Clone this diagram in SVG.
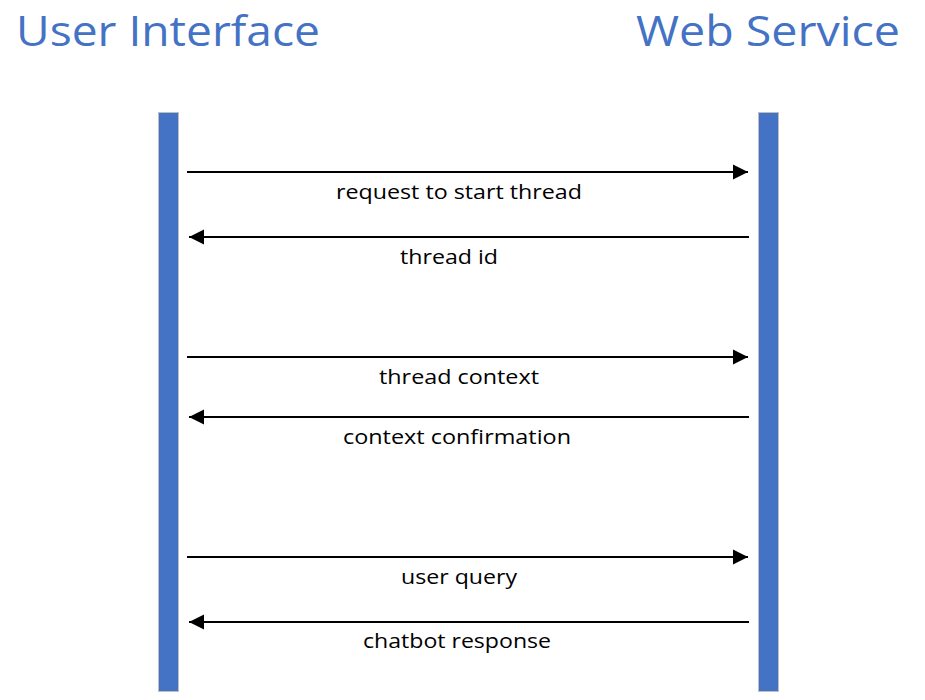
<svg xmlns="http://www.w3.org/2000/svg" width="925" height="700" viewBox="0 0 925 700">
<style>
.title{font-family:"Open Sans","Liberation Sans",sans-serif;font-size:42px;fill:#4472C4}
.lbl{font-family:"Open Sans","Liberation Sans",sans-serif;font-size:20px;fill:#000;text-anchor:middle}
.bar{fill:#4472C4;stroke:#BFBFBF;stroke-width:1}
.msg{stroke:#000;stroke-width:2;fill:none}
</style>
<defs>
<marker id="ah" markerWidth="16" markerHeight="16" refX="15" refY="8" orient="auto" markerUnits="userSpaceOnUse">
<path d="M0,0.5 L15,8 L0,15.5 Z" fill="#000"/>
</marker>
</defs>
<rect width="925" height="700" fill="#fff"/>
<g id="ui">
<text class="title" x="16" y="45.5" textLength="304" lengthAdjust="spacingAndGlyphs">User Interface</text>
<rect class="bar" x="158.5" y="112.5" width="20" height="579"/>
</g>
<g id="ws">
<text class="title" x="636" y="45.5" textLength="264" lengthAdjust="spacingAndGlyphs">Web Service</text>
<rect class="bar" x="758.5" y="112.5" width="20" height="579"/>
</g>
<g id="connectors">
<line class="msg" x1="187" y1="172" x2="748" y2="172" marker-end="url(#ah)"/>
<line class="msg" x1="749" y1="237" x2="189" y2="237" marker-end="url(#ah)"/>
<line class="msg" x1="187" y1="357" x2="748" y2="357" marker-end="url(#ah)"/>
<line class="msg" x1="749" y1="417" x2="189" y2="417" marker-end="url(#ah)"/>
<line class="msg" x1="187" y1="557" x2="748" y2="557" marker-end="url(#ah)"/>
<line class="msg" x1="749" y1="622" x2="189" y2="622" marker-end="url(#ah)"/>
<text class="lbl" x="459" y="199" textLength="246" lengthAdjust="spacingAndGlyphs">request to start thread</text>
<text class="lbl" x="449" y="264" textLength="98" lengthAdjust="spacingAndGlyphs">thread id</text>
<text class="lbl" x="459" y="384" textLength="160" lengthAdjust="spacingAndGlyphs">thread context</text>
<text class="lbl" x="457" y="444" textLength="228" lengthAdjust="spacingAndGlyphs">context confirmation</text>
<text class="lbl" x="459" y="584" textLength="116" lengthAdjust="spacingAndGlyphs">user query</text>
<text class="lbl" x="457" y="648" textLength="188" lengthAdjust="spacingAndGlyphs">chatbot response</text>
</g>
</svg>
